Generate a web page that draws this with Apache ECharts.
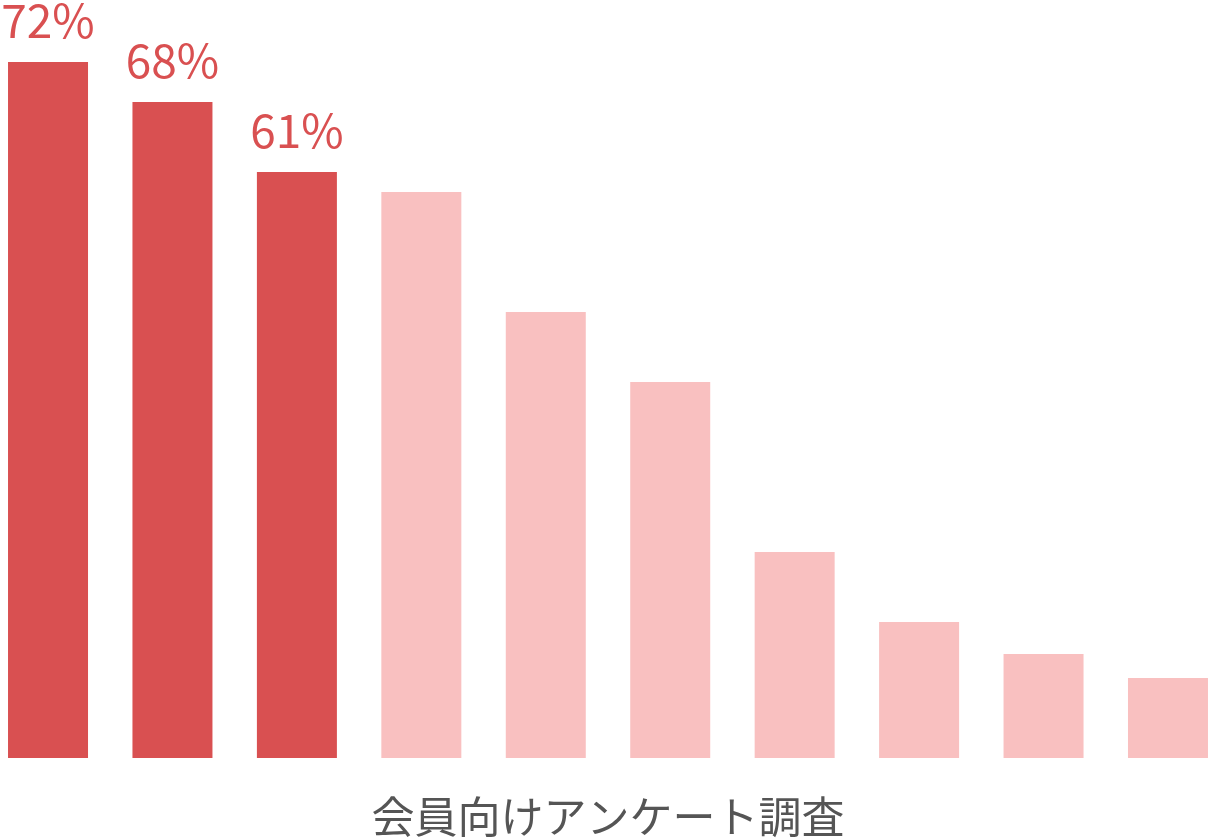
<!DOCTYPE html>
<html>
<head>
<meta charset="utf-8">
<script src="https://cdn.jsdelivr.net/npm/echarts@6/dist/echarts.min.js"></script>
<style>
html,body{margin:0;padding:0;background:#fff;}
#chart{width:1208px;height:840px;}
</style>
</head>
<body>
<div id="chart"></div>
<script>
const categories = ['1','2','3','4','5','6','7','8','9','10'];
const values = [72, 68, 61, 59, 47, 40, 23, 16, 12.8, 10.4];
const highlightCount = 3;
const axisTitle = '会員向けアンケート調査';

const chart = echarts.init(document.getElementById('chart'));
const data = values.map((v, i) => ({
  value: v,
  itemStyle: { color: i < highlightCount ? '#D95051' : '#F9C0C0' },
  label: { show: i < highlightCount }
}));
chart.setOption({
  animation: false,
  grid: { left: -14.2, right: -22.2, top: 0, bottom: 82, containLabel: false, outerBoundsMode: 'none' },
  xAxis: {
    type: 'category',
    data: categories,
    axisLine: { show: false },
    axisTick: { show: false },
    axisLabel: { show: false },
    name: axisTitle,
    nameLocation: 'middle',
    nameGap: 37,
    nameTextStyle: { fontSize: 43, color: '#555555', fontFamily: 'Noto Sans CJK JP' }
  },
  yAxis: {
    type: 'value',
    min: 2.4,
    max: 78.2,
    show: false,
    splitLine: { show: false }
  },
  series: [{
    type: 'bar',
    data: data,
    barWidth: 80,
    label: {
      position: 'top',
      distance: 18,
      formatter: p => Math.round(p.value) + '%',
      fontSize: 46,
      color: '#D95051',
      fontFamily: 'Noto Sans CJK JP'
    }
  }]
});
</script>
</body>
</html>
